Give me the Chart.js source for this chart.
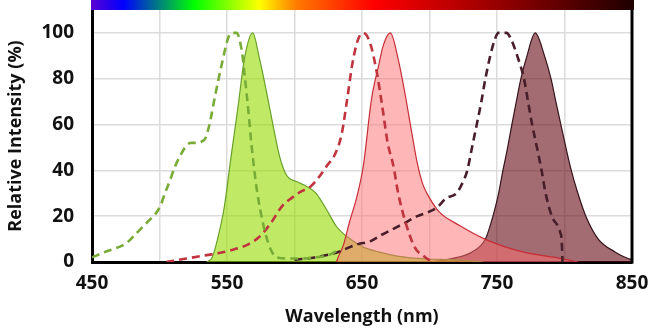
<!DOCTYPE html>
<html lang="en">
<head>
  <meta charset="UTF-8">
  <title>Spectra</title>
  <script src="https://cdn.jsdelivr.net/npm/chart.js"></script>
  <style>
    html, body { margin: 0; padding: 0; background: #fff; }
    .wrap { width: 650px; height: 330px; position: relative; }
  </style>
</head>
<body>
  <div class="wrap"><canvas id="spectra"></canvas></div>

  <script>
    // dye 1 (green)
    const greenExWl  = [450, 458, 465, 472, 477, 482, 487, 492, 497, 501, 504, 508, 511, 515, 519, 523, 527, 531, 534, 537, 541, 546, 551, 554, 557, 561, 563, 566, 568, 572, 577, 582, 587, 595, 605, 615, 625, 632];
    const greenExVal = [2, 4, 5.5, 7, 9, 12, 15, 18, 21, 25, 30, 36, 41, 46, 50, 52, 52, 52.5, 54, 60, 72, 86, 98, 100, 100, 92, 82, 65, 52, 32, 16, 6, 2, 1.5, 1.5, 2, 3, 5];
    const greenEmWl  = [535, 539, 543, 548, 553, 558, 563, 569, 574, 579, 584, 589, 594, 602, 609, 616, 624, 631, 639, 651, 663, 676, 698, 717, 740];
    const greenEmVal = [0, 2, 10, 24, 46, 67, 89, 100, 89, 75, 60, 46, 38, 35, 33, 30, 22.6, 15.6, 11, 6.5, 4.3, 2.6, 1.3, 1, 0];

    // dye 2 (red)
    const redExWl  = [505, 520, 535, 545, 555, 565, 574, 582, 591, 598, 604, 612, 618, 624, 630, 635, 639, 643, 647, 651, 656, 661, 665, 669, 673, 677, 682, 689, 697, 702];
    const redExVal = [0, 1.5, 3, 4, 5.5, 7.5, 11, 16.6, 24.5, 28, 30.5, 33, 37, 42, 47, 56, 71, 87, 97, 100, 95.6, 82.6, 68, 52, 42.6, 29.5, 17.8, 6.5, 2, 0];
    const redEmWl  = [631, 633, 636, 641, 646, 651, 657, 662, 666, 671, 677, 682, 687, 691, 695, 700, 707, 722, 741, 769, 798, 810];
    const redEmVal = [0, 3, 7, 18, 28, 42, 71, 85, 95, 100, 88, 73, 56, 43, 34, 28, 22, 16, 10, 4.4, 1.5, 0];

    // dye 3 (dark)
    const darkExWl  = [600, 615, 632, 641, 647, 656, 665, 680, 691, 700, 706, 712, 720, 724, 728, 731.5, 735, 738.4, 741.4, 745, 748.8, 751, 757, 760, 765, 770, 773, 776, 779.6, 783, 786, 790.6, 796.8, 798, 798.5];
    const darkExVal = [1, 2, 4.3, 6.5, 7.8, 9, 12, 16.5, 20, 22, 24, 27.7, 30, 34, 40, 50, 60, 70, 80, 90, 97.8, 100, 100, 97.8, 90, 80, 70, 60, 50, 40, 30, 20, 13, 8.8, 0];
    const darkEmWl  = [700, 716.7, 731.5, 741.4, 747, 751.2, 754.4, 757.9, 761, 764.3, 767.7, 772.2, 778.3, 785.2, 790, 793.6, 797.3, 801, 805, 809.9, 815.8, 825, 837.4, 847, 850];
    const darkEmVal = [0, 1.5, 4.4, 10, 20, 30, 40, 50, 60, 70, 80, 90, 100, 90, 80, 70, 60, 50, 40, 30, 20, 10, 4.4, 1.5, 1];

    const xTickLabels = [450, 550, 650, 750, 850];
    const yTickLabels = [0, 20, 40, 60, 80, 100];

    function pts(wl, val) {
      return wl.map((w, i) => ({ x: w, y: val[i] }));
    }

    function emission(wl, val, line, fill, order) {
      return {
        data: pts(wl, val),
        borderColor: line,
        backgroundColor: fill,
        borderWidth: 1.2,
        fill: 'origin',
        pointRadius: 0,
        tension: 0.4,
        cubicInterpolationMode: 'monotone',
        order: order
      };
    }

    function excitation(wl, val, line) {
      return {
        data: pts(wl, val),
        borderColor: line,
        borderWidth: 2.6,
        borderDash: [8, 5],
        fill: false,
        pointRadius: 0,
        tension: 0.4,
        cubicInterpolationMode: 'monotone',
        order: 0
      };
    }

    // scales must not reserve room for overhanging tick labels
    function noOverhang(s) {
      s.paddingTop = 0;
      s.paddingBottom = 0;
      s.paddingLeft = 0;
      s.paddingRight = 0;
    }

    // rainbow strip above the plot + right frame line
    const spectrumBar = {
      id: 'spectrumBar',
      afterDraw(chart) {
        const { ctx, chartArea } = chart;
        const x0 = chartArea.left - 1, x1 = chartArea.right + 2;
        const g = ctx.createLinearGradient(x0, 0, x1, 0);
        g.addColorStop(0, 'rgb(90,0,210)');
        g.addColorStop(0.06, 'rgb(0,0,255)');
        g.addColorStop(0.19, 'rgb(0,255,0)');
        g.addColorStop(0.31, 'rgb(255,255,0)');
        g.addColorStop(0.38, 'rgb(255,120,0)');
        g.addColorStop(0.52, 'rgb(255,0,0)');
        g.addColorStop(0.75, 'rgb(150,0,0)');
        g.addColorStop(1, 'rgb(30,0,0)');
        ctx.save();
        ctx.fillStyle = g;
        ctx.fillRect(x0, 0, x1 - x0, chartArea.top);
        ctx.strokeStyle = '#000';
        ctx.lineWidth = 3;
        ctx.beginPath();
        ctx.moveTo(chartArea.right, chartArea.top);
        ctx.lineTo(chartArea.right, chartArea.bottom + 1.5);
        ctx.stroke();
        ctx.restore();
      }
    };

    const titleFont = { family: '"Open Sans", sans-serif', size: 18, weight: 'bold' };
    const tickFont = { family: '"Open Sans", sans-serif', size: 19, weight: 'bold' };

    new Chart(document.getElementById('spectra'), {
      type: 'line',
      data: {
        datasets: [
          excitation(greenExWl, greenExVal, 'rgb(120,172,55)'),
          excitation(redExWl, redExVal, 'rgb(192,52,62)'),
          excitation(darkExWl, darkExVal, 'rgb(72,30,42)'),
          emission(redEmWl, redEmVal, 'rgb(200,45,55)', 'rgba(255,110,110,0.5)', 1),
          emission(greenEmWl, greenEmVal, 'rgb(105,160,40)', 'rgba(150,220,0,0.6)', 2),
          emission(darkEmWl, darkEmVal, 'rgb(55,20,28)', 'rgba(100,10,20,0.6)', 2)
        ]
      },
      options: {
        responsive: true,
        maintainAspectRatio: false,
        animation: false,
        layout: { autoPadding: false, padding: { top: 10, right: 18, left: 0, bottom: 0 } },
        plugins: {
          legend: { display: false },
          tooltip: { enabled: false }
        },
        scales: {
          x: {
            type: 'linear',
            min: 450,
            max: 850,
            afterFit: s => { s.height = 68; noOverhang(s); },
            ticks: {
              stepSize: 50,
              padding: 10,
              maxRotation: 0,
              color: '#111',
              font: tickFont,
              callback: v => xTickLabels.includes(v) ? v : ''
            },
            grid: { color: '#dcdcdc', lineWidth: 1.5, drawTicks: false },
            border: { color: '#000', width: 3 },
            title: { display: true, text: 'Wavelength (nm)', color: '#111', font: titleFont, padding: { top: 4, bottom: 2 } }
          },
          y: {
            min: 0,
            max: 110,
            afterFit: s => { s.width = 92; noOverhang(s); },
            ticks: {
              stepSize: 10,
              padding: 18,
              color: '#111',
              font: tickFont,
              callback: v => yTickLabels.includes(v) ? v : ''
            },
            grid: { color: '#dcdcdc', lineWidth: 1.5, drawTicks: false },
            border: { color: '#000', width: 3 },
            title: { display: true, text: 'Relative Intensity (%)', color: '#111', font: titleFont, padding: { top: 5, bottom: 4 } }
          }
        }
      },
      plugins: [spectrumBar]
    });
  </script>
</body>
</html>
